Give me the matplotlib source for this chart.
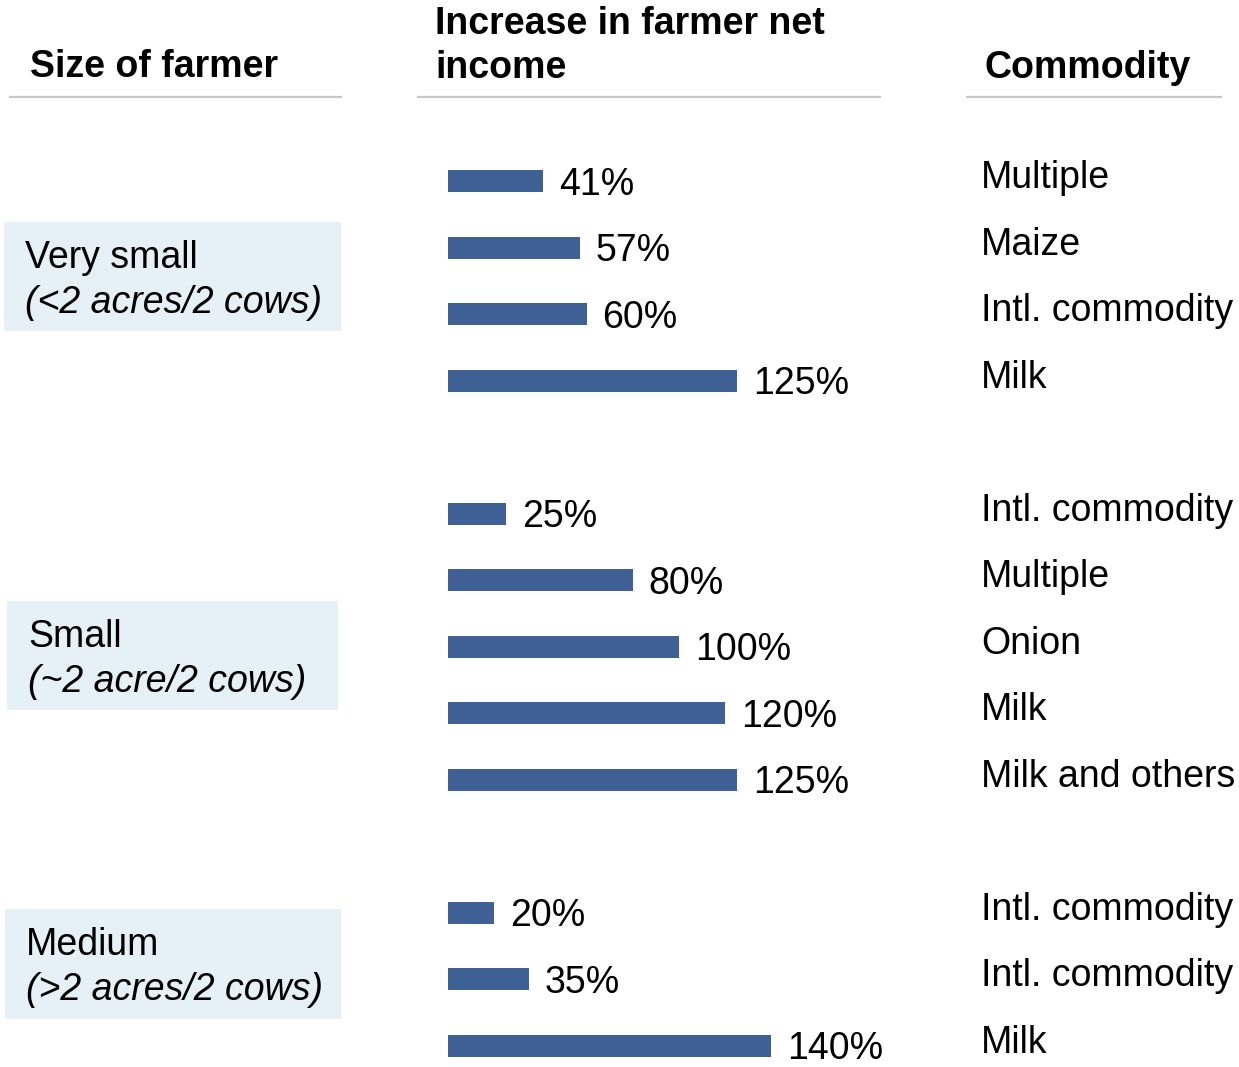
import matplotlib
matplotlib.use("Agg")
import matplotlib.pyplot as plt
from matplotlib.transforms import blended_transform_factory

plt.rcParams["font.family"] = ["Liberation Sans", "DejaVu Sans"]

# Data
groups = ["Very small", "Small", "Medium"]
group_notes = ["(<2 acres/2 cows)", "(~2 acre/2 cows)", "(>2 acres/2 cows)"]
values_very_small = [41, 57, 60, 125]
values_small = [25, 80, 100, 120, 125]
values_medium = [20, 35, 140]
commodities_very_small = ["Multiple", "Maize", "Intl. commodity", "Milk"]
commodities_small = ["Intl. commodity", "Multiple", "Onion", "Milk", "Milk and others"]
commodities_medium = ["Intl. commodity", "Intl. commodity", "Milk"]
headers = ["Size of farmer", "Increase in farmer net\nincome", "Commodity"]

W, H = 1239, 1067
fig = plt.figure(figsize=(W / 100, H / 100), dpi=100)

BAR_COLOR = "#3e6094"
BOX_COLOR = "#e5f0f7"
RULE_COLOR = "#c8c8c8"
FS = 27

# Row positions: one empty row between groups
series = [values_very_small, values_small, values_medium]
labels = [commodities_very_small, commodities_small, commodities_medium]
positions, values, commodities = [], [], []
row = 0
for vals, labs in zip(series, labels):
    for v, c in zip(vals, labs):
        positions.append(row)
        values.append(v)
        commodities.append(c)
        row += 1
    row += 1

# Bar axes
ax_left, ax_top, ax_bottom = 448 / W, 1 - 148 / H, 0.0
ax = fig.add_axes([ax_left, ax_bottom, 462 / W, ax_top - ax_bottom])
ax.barh(positions, values, height=0.33, color=BAR_COLOR, edgecolor="none")
ax.set_xlim(0, 200)
ax.set_ylim(13.32, -0.5)
ax.axis("off")

for y, v in zip(positions, values):
    ax.annotate(f"{v}%", xy=(v, y), xytext=(11.5, -2.5), textcoords="offset points",
                va="center", ha="left", fontsize=FS, color="black", annotation_clip=False)

# Commodity labels
tr = blended_transform_factory(fig.transFigure, ax.transData)
for y, c in zip(positions, commodities):
    ax.annotate(c, xy=(981 / W, y), xycoords=tr, xytext=(0, 2), textcoords="offset points",
                va="center", ha="left", fontsize=FS, color="black", annotation_clip=False)

# Column headers and rules
fig.text(30 / W, 1 - 67 / H, headers[0], fontsize=FS, fontweight="bold", va="center", ha="left")
fig.text(435 / W, 1 - 46 / H, headers[1], fontsize=FS, fontweight="bold", va="center", ha="left",
         linespacing=1.3)
fig.text(985 / W, 1 - 68 / H, headers[2], fontsize=FS, fontweight="bold", va="center", ha="left")
for x0, x1 in [(10, 341), (418, 880), (967, 1221)]:
    fig.add_artist(plt.Line2D([x0 / W, x1 / W], [1 - 97 / H] * 2, color=RULE_COLOR, lw=1.6,
                              transform=fig.transFigure))

# Group boxes
boxes = [(4, 222, 341, 331), (7, 601, 338, 710), (5, 909, 341, 1019)]
for (x0, y0, x1, y1), name, note in zip(boxes, groups, group_notes):
    fig.add_artist(plt.Rectangle((x0 / W, 1 - y1 / H), (x1 - x0) / W, (y1 - y0) / H,
                                 facecolor=BOX_COLOR, edgecolor="none", transform=fig.transFigure))
    fig.text((x0 + 21) / W, 1 - (y0 + 36) / H, name, fontsize=FS, va="center", ha="left")
    fig.text((x0 + 21) / W, 1 - (y0 + 81) / H, note, fontsize=FS, style="italic",
             va="center", ha="left")

fig.savefig("out.png", dpi=100, facecolor="white")
